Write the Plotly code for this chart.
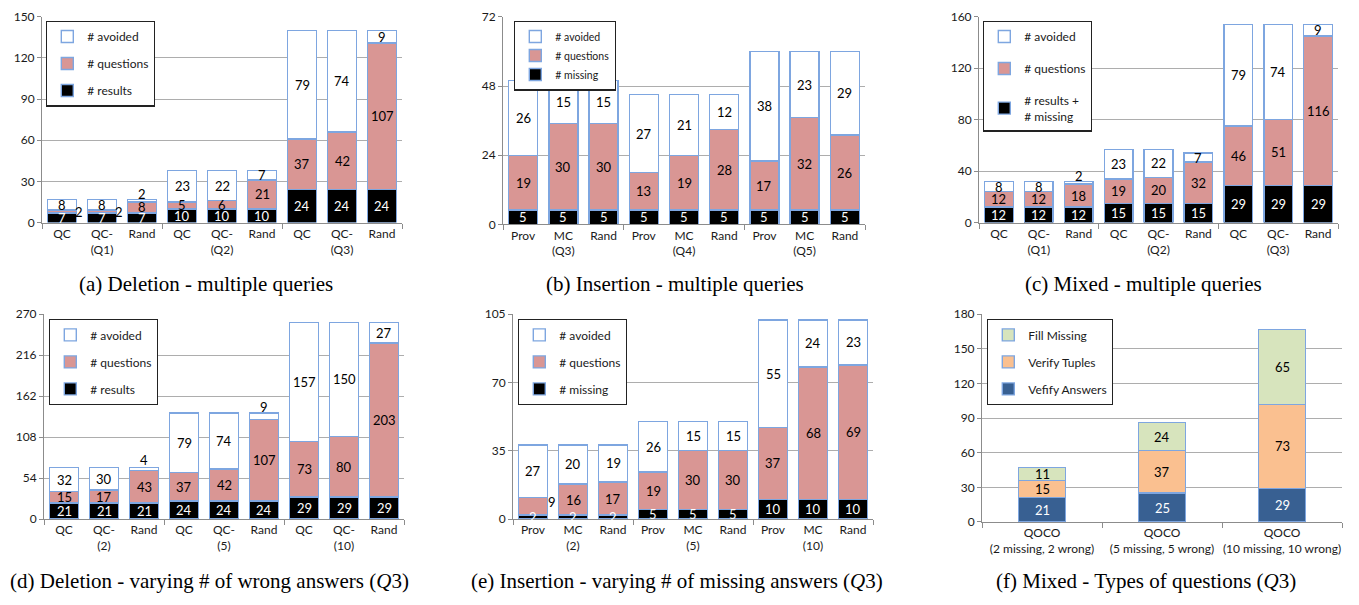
import plotly.graph_objects as go

W, H = 1359, 605

# ---------------- data ----------------
a_cats = ["QC", "QC-<br>(Q1)", "Rand", "QC", "QC-<br>(Q2)", "Rand", "QC", "QC-<br>(Q3)", "Rand"]
a_results = [7, 7, 7, 10, 10, 10, 24, 24, 24]
a_questions = [2, 2, 8, 5, 6, 21, 37, 42, 107]
a_avoided = [8, 8, 2, 23, 22, 7, 79, 74, 9]

b_cats = ["Prov", "MC<br>(Q3)", "Rand", "Prov", "MC<br>(Q4)", "Rand", "Prov", "MC<br>(Q5)", "Rand"]
b_missing = [5, 5, 5, 5, 5, 5, 5, 5, 5]
b_questions = [19, 30, 30, 13, 19, 28, 17, 32, 26]
b_avoided = [26, 15, 15, 27, 21, 12, 38, 23, 29]

c_cats = ["QC", "QC-<br>(Q1)", "Rand", "QC", "QC-<br>(Q2)", "Rand", "QC", "QC-<br>(Q3)", "Rand"]
c_results_missing = [12, 12, 12, 15, 15, 15, 29, 29, 29]
c_questions = [12, 12, 18, 19, 20, 32, 46, 51, 116]
c_avoided = [8, 8, 2, 23, 22, 7, 79, 74, 9]

d_cats = ["QC", "QC-<br>(2)", "Rand", "QC", "QC-<br>(5)", "Rand", "QC", "QC-<br>(10)", "Rand"]
d_results = [21, 21, 21, 24, 24, 24, 29, 29, 29]
d_questions = [15, 17, 43, 37, 42, 107, 73, 80, 203]
d_avoided = [32, 30, 4, 79, 74, 9, 157, 150, 27]

e_cats = ["Prov", "MC<br>(2)", "Rand", "Prov", "MC<br>(5)", "Rand", "Prov", "MC<br>(10)", "Rand"]
e_missing = [2, 2, 2, 5, 5, 5, 10, 10, 10]
e_questions = [9, 16, 17, 19, 30, 30, 37, 68, 69]
e_avoided = [27, 20, 19, 26, 15, 15, 55, 24, 23]

f_cats = ["QOCO<br>(2 missing, 2 wrong)", "QOCO<br>(5 missing, 5 wrong)",
          "QOCO<br>(10 missing, 10 wrong)"]
f_answers = [21, 25, 29]
f_tuples = [15, 37, 73]
f_fill = [11, 24, 65]

a_yticks = [0, 30, 60, 90, 120, 150]
b_yticks = [0, 24, 48, 72]
c_yticks = [0, 40, 80, 120, 160]
d_yticks = [0, 54, 108, 162, 216, 270]
e_yticks = [0, 35, 70, 105]
f_yticks = [0, 30, 60, 90, 120, 150, 180]

# ---------------- styles ----------------
EDGE = "#7EA6E0"
BLACK = "#000000"
PINK = "#D99694"
WHITE = "#FFFFFF"
DBLUE = "#386092"
ORANGE = "#FAC090"
GREEN = "#D7E4BD"
GRID = "#ADADAD"
AXIS = "#8C8C8C"
FONT = "Lato"
SERIF = "Liberation Serif"

panels = [
    dict(cats=a_cats, yticks=a_yticks, box=(42, 402, 9, 220), bw=0.72,
         series=[("# results", a_results, BLACK, "white"),
                 ("# questions", a_questions, PINK, "black"),
                 ("# avoided", a_avoided, WHITE, "black")],
         legend=(46, 13), gap=8, lfont=12, group=3,
         caption="(a) Deletion - multiple queries", cap=(206, 283),
         shifts={(1, 0): (17, 0), (1, 1): (17, 0), (2, 2): (0, 7)}),
    dict(cats=b_cats, yticks=b_yticks, box=(503, 865, 9, 222), bw=0.72,
         series=[("# missing", b_missing, BLACK, "white"),
                 ("# questions", b_questions, PINK, "black"),
                 ("# avoided", b_avoided, WHITE, "black")],
         legend=(514, 13), gap=0, lfont=10.5, group=3,
         caption="(b) Insertion - multiple queries", cap=(675, 283),
         shifts={}),
    dict(cats=c_cats, yticks=c_yticks, box=(979, 1338, 9, 220), bw=0.72,
         series=[("# results +<br># missing", c_results_missing, BLACK, "white"),
                 ("# questions", c_questions, PINK, "black"),
                 ("# avoided", c_avoided, WHITE, "black")],
         legend=(983, 13), gap=13, lfont=12, group=3,
         caption="(c) Mixed - multiple queries", cap=(1143, 283),
         shifts={(2, 2): (0, 7)}),
    dict(cats=d_cats, yticks=d_yticks, box=(44, 404, 314, 524), bw=0.72,
         series=[("# results", d_results, BLACK, "white"),
                 ("# questions", d_questions, PINK, "black"),
                 ("# avoided", d_avoided, WHITE, "black")],
         legend=(49, 319), gap=8, lfont=12, group=3,
         caption="(d) Deletion - varying # of wrong answers (<i>Q</i>3)", cap=(209, 588),
         shifts={(2, 2): (0, 9), (2, 5): (0, 9)}),
    dict(cats=e_cats, yticks=e_yticks, box=(513, 873, 314, 524), bw=0.72,
         series=[("# missing", e_missing, BLACK, "white"),
                 ("# questions", e_questions, PINK, "black"),
                 ("# avoided", e_avoided, WHITE, "black")],
         legend=(518, 319), gap=8, lfont=12, group=3,
         caption="(e) Insertion - varying # of missing answers (<i>Q</i>3)", cap=(677, 588),
         shifts={(1, 0): (19, 4)}),
    dict(cats=f_cats, yticks=f_yticks, box=(982, 1342, 314, 527), bw=0.39,
         series=[("Vefify Answers", f_answers, DBLUE, "white"),
                 ("Verify Tuples", f_tuples, ORANGE, "black"),
                 ("Fill Missing", f_fill, GREEN, "black")],
         legend=(987, 319), gap=8, lfont=12, group=1,
         caption="(f) Mixed - Types of questions (<i>Q</i>3)", cap=(1146, 588),
         shifts={}),
]

fig = go.Figure()
layout = dict(
    width=W, height=H, margin=dict(l=0, r=0, t=0, b=0),
    paper_bgcolor="white", plot_bgcolor="white",
    barmode="stack", showlegend=True,
    font=dict(family=FONT, size=12, color="#1a1a1a"),
)
annotations = []

for k, p in enumerate(panels, start=1):
    sfx = "" if k == 1 else str(k)
    xa, ya = "x" + sfx, "y" + sfx
    lg = "legend" + sfx
    n = len(p["cats"])
    xs = list(range(n))
    x0, x1, y0, y1 = p["box"]
    ymax = p["yticks"][-1]
    base = [0] * n
    nser = len(p["series"])
    for j, (name, vals, fill, tcol) in enumerate(p["series"]):
        fig.add_trace(go.Bar(
            x=xs, y=vals, width=p["bw"], name=name,
            marker=dict(color=fill, line=dict(color=EDGE, width=1.4)),
            xaxis=xa, yaxis=ya, legend=lg, legendgroup=f"g{k}_{j}",
            legendrank=nser - j, hoverinfo="skip",
        ))
        for i, v in enumerate(vals):
            dx, dy = p["shifts"].get((j, i), (0, 0))
            annotations.append(dict(
                x=i, y=base[i] + v / 2, xref=xa, yref=ya, text=str(v),
                showarrow=False, xshift=dx, yshift=dy,
                font=dict(family=FONT, size=13,
                          color=("black" if (dx or dy) else tcol)),
            ))
            base[i] += v
    layout["xaxis" + sfx] = dict(
        domain=[x0 / W, x1 / W], anchor=ya, range=[-0.5, n - 0.5],
        tickmode="array", tickvals=xs, ticktext=p["cats"], ticks="",
        showline=True, linecolor=AXIS, linewidth=1, showgrid=False, zeroline=False,
        tickfont=dict(family=FONT, size=12, color="#1a1a1a"),
        minor=dict(tick0=-0.5, dtick=p["group"], ticks="outside", ticklen=5,
                   tickcolor=AXIS, showgrid=False),
        fixedrange=True,
    )
    layout["yaxis" + sfx] = dict(
        domain=[1 - y1 / H, 1 - y0 / H], anchor=xa, range=[0, ymax],
        tickmode="array", tickvals=p["yticks"], ticks="outside", ticklen=4,
        tickcolor=AXIS, showline=True, linecolor=AXIS, linewidth=1,
        showgrid=True, gridcolor=GRID, gridwidth=1.2, zeroline=False,
        tickfont=dict(family=FONT, size=12, color="#1a1a1a"),
        fixedrange=True,
    )
    lx, ly = p["legend"]
    layout[lg] = dict(
        x=lx / W, y=1 - ly / H, xanchor="left", yanchor="top",
        bgcolor="white", bordercolor="#222222", borderwidth=1.3,
        font=dict(family=FONT, size=p["lfont"], color="#1a1a1a"),
        traceorder="grouped", tracegroupgap=p["gap"],
        itemclick=False, itemdoubleclick=False,
    )
    cx, cy = p["cap"]
    annotations.append(dict(
        x=cx / W, y=1 - cy / H, xref="paper", yref="paper", text=p["caption"],
        showarrow=False, xanchor="center", yanchor="middle",
        font=dict(family=SERIF, size=21, color="black"),
    ))

layout["annotations"] = annotations
fig.update_layout(**layout)
fig.write_html(
    "out.html",
    config={"displayModeBar": False},
    post_script="document.body.style.margin='0';document.body.style.overflow='hidden';",
)
